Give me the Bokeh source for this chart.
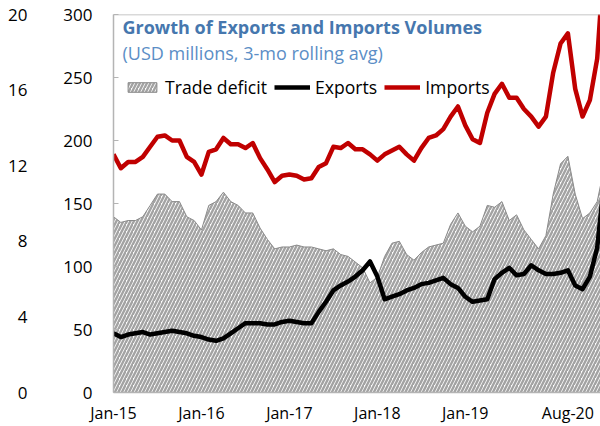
from bokeh.plotting import figure
from bokeh.models import (Range1d, LinearAxis, FixedTicker, Span, Label,
                          Legend, LegendItem)
from bokeh.embed import file_html
from bokeh.resources import INLINE

# ---------------- data (monthly, Jan-2015 onwards) ----------------
imports = [189, 178, 183, 183, 187, 195, 203, 204, 200, 200, 187, 183, 173, 191, 193, 202, 197, 197,
           194, 198, 186, 177, 167, 172, 173, 172, 169, 170, 179, 182, 195, 194, 198, 193, 193,
           189, 184, 189, 192, 195, 189, 184, 194, 202, 204, 209, 219, 227, 212, 201, 198,
           222, 237, 245, 234, 234, 225, 219, 211, 219, 254, 277, 285, 241, 219, 232, 265, 350]
exports = [47, 44, 46, 47, 48, 46, 47, 48, 49, 48, 47, 45, 44, 42, 41, 43, 47, 51,
           55, 55, 55, 54, 54, 56, 57, 56, 55, 55, 64, 72, 81, 85, 88, 92, 97,
           104, 92, 74, 76, 78, 81, 83, 86, 87, 89, 91, 86, 83, 76, 72, 73,
           74, 90, 95, 99, 93, 94, 101, 97, 94, 94, 95, 97, 85, 82, 92, 115, 170]
# trade deficit, read on the outer (0-20) axis
deficit = [9.3, 9.0, 9.1, 9.1, 9.3, 9.9, 10.5, 10.5, 10.1, 10.1, 9.3, 9.1, 8.6, 9.9, 10.1, 10.6, 10.1, 9.9,
           9.5, 9.5, 8.7, 8.1, 7.6, 7.7, 7.7, 7.8, 7.7, 7.7, 7.6, 7.5, 7.6, 7.3, 7.2, 6.9, 6.6,
           5.8, 6.1, 7.2, 7.9, 8.0, 7.3, 7.0, 7.4, 7.7, 7.8, 7.9, 8.9, 9.5, 8.8, 8.5, 8.8,
           9.9, 9.8, 10.1, 9.1, 9.4, 8.6, 8.1, 7.6, 8.3, 10.5, 12.1, 12.5, 10.5, 9.2, 9.5, 10.1, 12.0]
months = list(range(len(imports)))

x_tick_pos = [0, 12, 24, 36, 48, 62]
x_tick_labels = ["Jan-15", "Jan-16", "Jan-17", "Jan-18", "Jan-19", "Aug-20"]
value_ticks = [0, 50, 100, 150, 200, 250, 300]
deficit_ticks = [0, 4, 8, 12, 16, 20]

FONT = "Open Sans"
GRAY = "#b4b4b4"

p = figure(width=600, height=426, output_backend="svg", toolbar_location=None,
           x_range=Range1d(0, 66.45), y_range=Range1d(0, 300),
           min_border_left=113, min_border_right=0, min_border_top=14, min_border_bottom=33)
p.extra_y_ranges = {"def": Range1d(0, 20)}
p.grid.visible = False
p.outline_line_color = None
p.background_fill_color = "white"
p.border_fill_color = "white"

# x axis
xa = p.xaxis[0]
xa.ticker = FixedTicker(ticks=x_tick_pos)
xa.major_label_overrides = dict(zip(x_tick_pos, x_tick_labels))
xa.axis_line_color = GRAY
xa.axis_line_width = 1.5
xa.major_tick_line_color = None
xa.major_tick_in = 0
xa.major_tick_out = 0
xa.minor_tick_line_color = None
xa.minor_tick_out = 0
xa.major_label_standoff = 9
xa.major_label_text_font = FONT
xa.major_label_text_font_size = "16px"
xa.major_label_text_color = "black"

# inner left axis (0-300)
ya = p.yaxis[0]
ya.ticker = FixedTicker(ticks=value_ticks)
ya.axis_line_color = GRAY
ya.axis_line_width = 1.5
ya.major_tick_in = 5
ya.major_tick_out = 0
ya.major_tick_line_color = GRAY
ya.minor_tick_line_color = None
ya.minor_tick_out = 0
ya.major_label_standoff = 21
ya.major_label_text_font = FONT
ya.major_label_text_font_size = "17px"
ya.major_label_text_color = "black"

# outer left axis (0-20)
ya2 = LinearAxis(y_range_name="def", ticker=FixedTicker(ticks=deficit_ticks))
ya2.axis_line_color = None
ya2.major_tick_line_color = None
ya2.major_tick_in = 0
ya2.major_tick_out = 0
ya2.minor_tick_line_color = None
ya2.minor_tick_out = 0
ya2.major_label_standoff = 33
ya2.major_label_text_font = FONT
ya2.major_label_text_font_size = "17px"
ya2.major_label_text_color = "black"
p.add_layout(ya2, "left")

# top border line
p.add_layout(Span(location=300, dimension="width", line_color=GRAY, line_width=1.5))

# trade deficit area (hatched)
area = p.patch(x=months + [months[-1], months[0]], y=deficit + [0, 0], y_range_name="def",
               fill_color="white", hatch_pattern="/", hatch_color="#a3a3a3",
               hatch_weight=2.4, hatch_scale=7,
               line_color="#8a8a8a", line_width=1)
exp = p.line(months, exports, line_color="black", line_width=4.5, line_join="round")
imp = p.line(months, imports, line_color="#c00000", line_width=4.5, line_join="round")

legend = Legend(items=[LegendItem(label="Trade deficit", renderers=[area]),
                       LegendItem(label="Exports", renderers=[exp]),
                       LegendItem(label="Imports", renderers=[imp])],
                orientation="horizontal", location=(11, 293),
                background_fill_alpha=0, border_line_color=None,
                padding=0, margin=0, spacing=7, glyph_width=36, glyph_height=12,
                label_standoff=5, label_height=20,
                label_text_font=FONT, label_text_font_size="17.6px", label_text_color="black")
p.add_layout(legend)

p.add_layout(Label(x=9, y=366, x_units="screen", y_units="screen",
                   text="Growth of Exports and Imports Volumes",
                   text_font=FONT, text_font_style="bold", text_font_size="18px",
                   text_color="#4677ae", text_baseline="middle"))
p.add_layout(Label(x=9, y=340, x_units="screen", y_units="screen",
                   text="(USD millions, 3-mo rolling avg)",
                   text_font=FONT, text_font_size="18px",
                   text_color="#5b8ec6", text_baseline="middle"))

open("out.html", "w").write(file_html(p, INLINE))
